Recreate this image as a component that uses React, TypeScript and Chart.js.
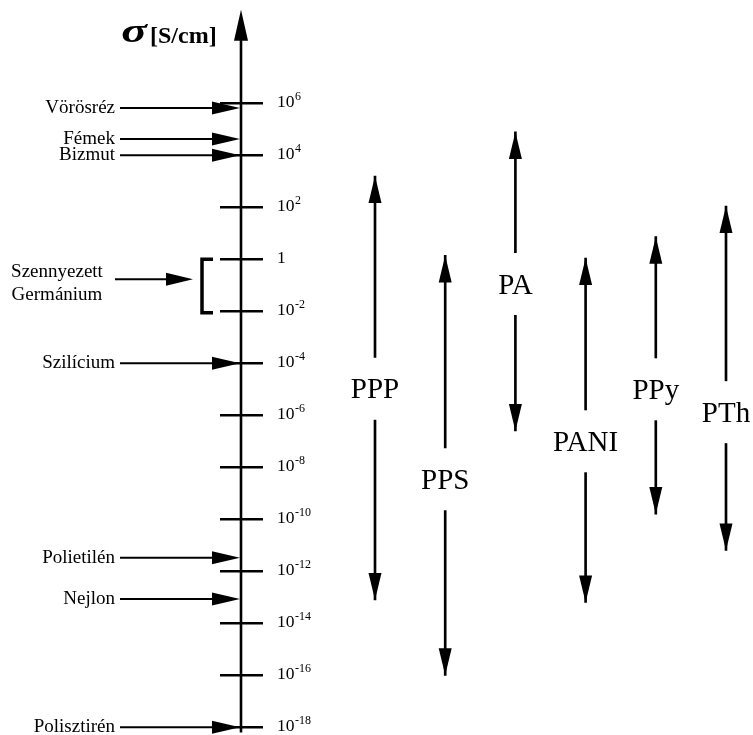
import React, { useEffect, useRef } from 'react';
import { Chart, registerables } from 'chart.js';

Chart.register(...registerables);

// ---- data (log10 of conductivity, S/cm) ----
const polymers = ['PPP', 'PPS', 'PA', 'PANI', 'PPy', 'PTh'];
const polymerHigh = [3.2, 0.15, 4.9, 0.05, 0.87, 2.05];
const polymerLow = [-13.1, -16.0, -6.6, -13.2, -9.8, -11.2];
const polymerLabelAt = [-4.98, -8.46, -0.95, -7.0, -5.0, -5.88];

const tickExponents = [6, 4, 2, 0, -2, -4, -6, -8, -10, -12, -14, -16, -18];

const materials = ['Vörösréz', 'Fémek', 'Bizmut', 'Szilícium', 'Polietilén', 'Nejlon', 'Polisztirén'];
const materialValues = [5.82, 4.63, 4.0, -4.0, -11.48, -13.07, -18.0];

const germaniumLabel = ['Szennyezett', 'Germánium'];
const germaniumRange = [-2, 0];
const germaniumArrowAt = -0.77;

const titleSymbol = 'σ';
const titleUnit = '[S/cm]';

// axis extent (in exponent units)
const AXIS_TOP = 9.6;
const AXIS_BOTTOM = -18.2;

// ---- layout ----
const W = 753;
const H = 735;
const Y_MAX = 9.973;
const Y_MIN = -18.296;
const AXIS_X = 241;
const SERIF = '"Liberation Serif", "Times New Roman", serif';

function head(ctx: CanvasRenderingContext2D, x: number, y: number, dir: string, len: number, half: number) {
  ctx.beginPath();
  ctx.moveTo(x, y);
  if (dir === 'up') {
    ctx.lineTo(x - half, y + len);
    ctx.lineTo(x + half, y + len);
  } else if (dir === 'down') {
    ctx.lineTo(x - half, y - len);
    ctx.lineTo(x + half, y - len);
  } else {
    ctx.lineTo(x - len, y - half);
    ctx.lineTo(x - len, y + half);
  }
  ctx.closePath();
  ctx.fill();
}

const diagramPlugin = {
  id: 'diagram',
  afterDatasetsDraw(chart: any) {
    const ctx: CanvasRenderingContext2D = chart.ctx;
    const ys = chart.scales.y;
    const xs = chart.scales.x;
    ctx.save();
    ctx.strokeStyle = '#000';
    ctx.fillStyle = '#000';
    ctx.lineCap = 'butt';

    // polymer ranges: gaps, labels, arrowheads
    polymers.forEach((name, i) => {
      const x = xs.getPixelForValue(i);
      const yl = ys.getPixelForValue(polymerLabelAt[i]);
      ctx.fillStyle = '#fff';
      ctx.fillRect(x - 4, yl - 31, 8, 62);
      ctx.fillStyle = '#000';
      ctx.font = `29px ${SERIF}`;
      ctx.textAlign = 'center';
      ctx.textBaseline = 'alphabetic';
      ctx.fillText(name, x, yl + 9.6);
      head(ctx, x, ys.getPixelForValue(polymerHigh[i]), 'up', 27, 6.5);
      head(ctx, x, ys.getPixelForValue(polymerLow[i]), 'down', 27, 6.5);
    });

    // main axis
    const yTop = ys.getPixelForValue(AXIS_TOP);
    ctx.lineWidth = 2.6;
    ctx.beginPath();
    ctx.moveTo(AXIS_X, ys.getPixelForValue(AXIS_BOTTOM));
    ctx.lineTo(AXIS_X, yTop + 20);
    ctx.stroke();
    head(ctx, AXIS_X, yTop, 'up', 31, 7);

    // ticks and labels
    tickExponents.forEach((e) => {
      const y = ys.getPixelForValue(e);
      ctx.lineWidth = 2.6;
      ctx.beginPath();
      ctx.moveTo(AXIS_X - 21, y);
      ctx.lineTo(AXIS_X + 22, y);
      ctx.stroke();
      ctx.textAlign = 'left';
      ctx.textBaseline = 'alphabetic';
      ctx.font = `17.5px ${SERIF}`;
      const x0 = 277;
      if (e === 0) {
        ctx.fillText('1', x0, y + 4);
      } else {
        ctx.fillText('10', x0, y + 4);
        const w = ctx.measureText('10').width;
        ctx.font = `12px ${SERIF}`;
        ctx.fillText(String(e), x0 + w + 0.5, y - 3);
      }
    });

    // title
    ctx.textBaseline = 'alphabetic';
    ctx.save();
    ctx.translate(147, 42);
    ctx.scale(1.4, 1);
    ctx.textAlign = 'right';
    ctx.font = `bold italic 34px ${SERIF}`;
    ctx.fillText(titleSymbol, 0, 0);
    ctx.restore();
    ctx.textAlign = 'left';
    ctx.font = `bold 24px ${SERIF}`;
    ctx.fillText(titleUnit, 150, 43);

    // material markers
    materials.forEach((name, i) => {
      const y = ys.getPixelForValue(materialValues[i]);
      ctx.lineWidth = 2;
      ctx.beginPath();
      ctx.moveTo(120, y);
      ctx.lineTo(AXIS_X - 20, y);
      ctx.stroke();
      head(ctx, AXIS_X - 1, y, 'right', 28, 6.5);
      ctx.font = `19px ${SERIF}`;
      ctx.textAlign = 'right';
      ctx.fillText(name, 115, y + 5);
    });

    // germanium bracket
    const gTop = ys.getPixelForValue(germaniumRange[1]);
    const gBot = ys.getPixelForValue(germaniumRange[0]);
    ctx.lineWidth = 3.5;
    ctx.lineJoin = 'miter';
    ctx.beginPath();
    ctx.moveTo(213, gTop);
    ctx.lineTo(202, gTop);
    ctx.lineTo(202, gBot + 1.5);
    ctx.lineTo(213, gBot + 1.5);
    ctx.stroke();
    const ga = ys.getPixelForValue(germaniumArrowAt);
    ctx.lineWidth = 2;
    ctx.beginPath();
    ctx.moveTo(115, ga);
    ctx.lineTo(175, ga);
    ctx.stroke();
    head(ctx, 193, ga, 'right', 27, 6.5);
    ctx.font = `19px ${SERIF}`;
    ctx.textAlign = 'center';
    ctx.fillText(germaniumLabel[0], 57, ga - 2);
    ctx.fillText(germaniumLabel[1], 57, ga + 20.7);

    ctx.restore();
  },
};

export default function App() {
  const ref = useRef<HTMLCanvasElement | null>(null);
  useEffect(() => {
    if (!ref.current) return;
    const chart = new Chart(ref.current, {
      type: 'bar',
      data: {
        labels: polymers,
        datasets: [
          {
            label: 'σ range',
            data: polymers.map((_, i) => [polymerLow[i], polymerHigh[i]]) as any,
            backgroundColor: '#000',
            borderWidth: 0,
            barThickness: 2,
            clip: false as any,
          },
        ],
      },
      options: {
        animation: false,
        responsive: false,
        events: [],
        layout: { padding: { left: 375, right: 27, top: 0, bottom: 0 } },
        plugins: { legend: { display: false }, tooltip: { enabled: false } },
        scales: {
          x: { type: 'category', display: false, offset: false },
          y: { type: 'linear', display: false, min: Y_MIN, max: Y_MAX },
        },
      },
      plugins: [diagramPlugin],
    });
    return () => chart.destroy();
  }, []);
  return (
    <canvas
      ref={ref}
      width={W}
      height={H}
      style={{ position: 'fixed', left: 0, top: 0, width: W, height: H, background: '#fff' }}
    />
  );
}
